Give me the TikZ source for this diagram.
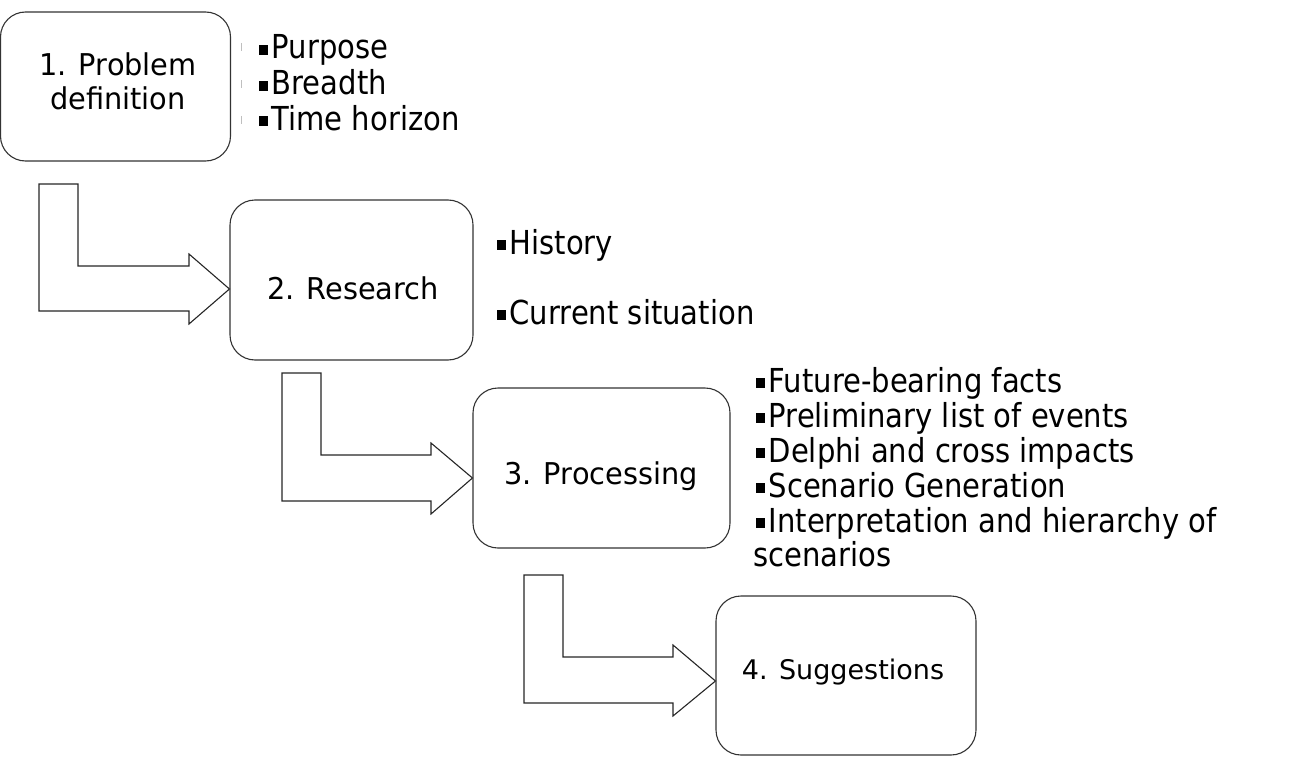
\documentclass[tikz,border=0pt]{standalone}
\usepackage{fontspec}
\setmainfont{DejaVu Sans}
\newfontfamily\listfont{DejaVu Sans}[FakeStretch=0.88]
\newfontfamily\boxfont{DejaVu Sans}[FakeStretch=0.96]
\newcommand\sqb{\rule[4pt]{9pt}{10pt}\hspace{3.5pt}}
\begin{document}
\begin{tikzpicture}[x=1pt,y=-1pt,
  box/.style={draw=black!80,line width=1.1pt,rounded corners=25pt,inner sep=0pt},
  blockarrow/.style={draw=black!85,line width=1.1pt,fill=white,line join=miter},
  boxtext/.style={font=\boxfont\fontsize{30}{34}\selectfont,inner sep=0pt,anchor=base},
  smalltext/.style={font=\fontsize{27}{32}\selectfont,inner sep=0pt,anchor=base},
  item/.style={font=\listfont\fontsize{33}{35}\selectfont,inner sep=0pt,anchor=base west},
  faint/.style={draw=black!25,line width=0.8pt}]
\useasboundingbox (0,0) rectangle (1300,757);
% boxes
\node[box,minimum width=230pt,minimum height=149pt] (b1) at (115.5,86.5) {};
\node[box,minimum width=243pt,minimum height=160pt] (b2) at (351.5,280) {};
\node[box,minimum width=257pt,minimum height=160pt] (b3) at (601.5,468) {};
\node[box,minimum width=260pt,minimum height=159pt] (b4) at (846,675.5) {};
% box texts
\node[boxtext] (t1a) at (118,76) {1. Problem};
\node[boxtext] (t1b) at (118,110) {definition};
\node[boxtext] (t2) at (353,299) {2. Research};
\node[boxtext] (t3) at (601,484) {3. Processing};
\node[smalltext] (t4) at (843,679) {4. Suggestions};
% bent block arrows
\path[blockarrow] (39,184) -- (78,184) -- (78,266) -- (189,266) -- (189,254)
  -- (b2.west |- 0,289) -- (189,324) -- (189,311) -- (39,311) -- cycle;
\path[blockarrow] (282,373) -- (321,373) -- (321,455) -- (431,455) -- (431,443)
  -- (b3.west |- 0,478) -- (431,514) -- (431,501) -- (282,501) -- cycle;
\path[blockarrow] (524,575) -- (563,575) -- (563,657) -- (673,657) -- (673,645)
  -- (b4.west |- 0,681) -- (673,716) -- (673,703) -- (524,703) -- cycle;
% faint marks
\coordinate (f1a) at (241,43); \coordinate (f1b) at (241,51);
\coordinate (f2a) at (241,80); \coordinate (f2b) at (241,88);
\coordinate (f3a) at (241,116); \coordinate (f3b) at (241,124);
\draw[faint] (f1a) -- (f1b); \draw[faint] (f2a) -- (f2b); \draw[faint] (f3a) -- (f3b);
% list 1
\node[item] (l1a) at (259,59) {\sqb Purpose};
\node[item] (l1b) at (259,95) {\sqb Breadth};
\node[item] (l1c) at (259,130) {\sqb Time horizon};
% list 2
\node[item] (l2a) at (497,254) {\sqb History};
\node[item] (l2b) at (497,324) {\sqb Current situation};
% list 3
\node[item] (l3a) at (756,392) {\sqb Future-bearing facts};
\node[item] (l3b) at (756,427) {\sqb Preliminary list of events};
\node[item] (l3c) at (756,462) {\sqb Delphi and cross impacts};
\node[item] (l3d) at (756,497) {\sqb Scenario Generation};
\node[item] (l3e) at (756,532) {\sqb Interpretation and hierarchy of};
\node[item] (l3f) at (753,566) {scenarios};
\end{tikzpicture}
\end{document}
